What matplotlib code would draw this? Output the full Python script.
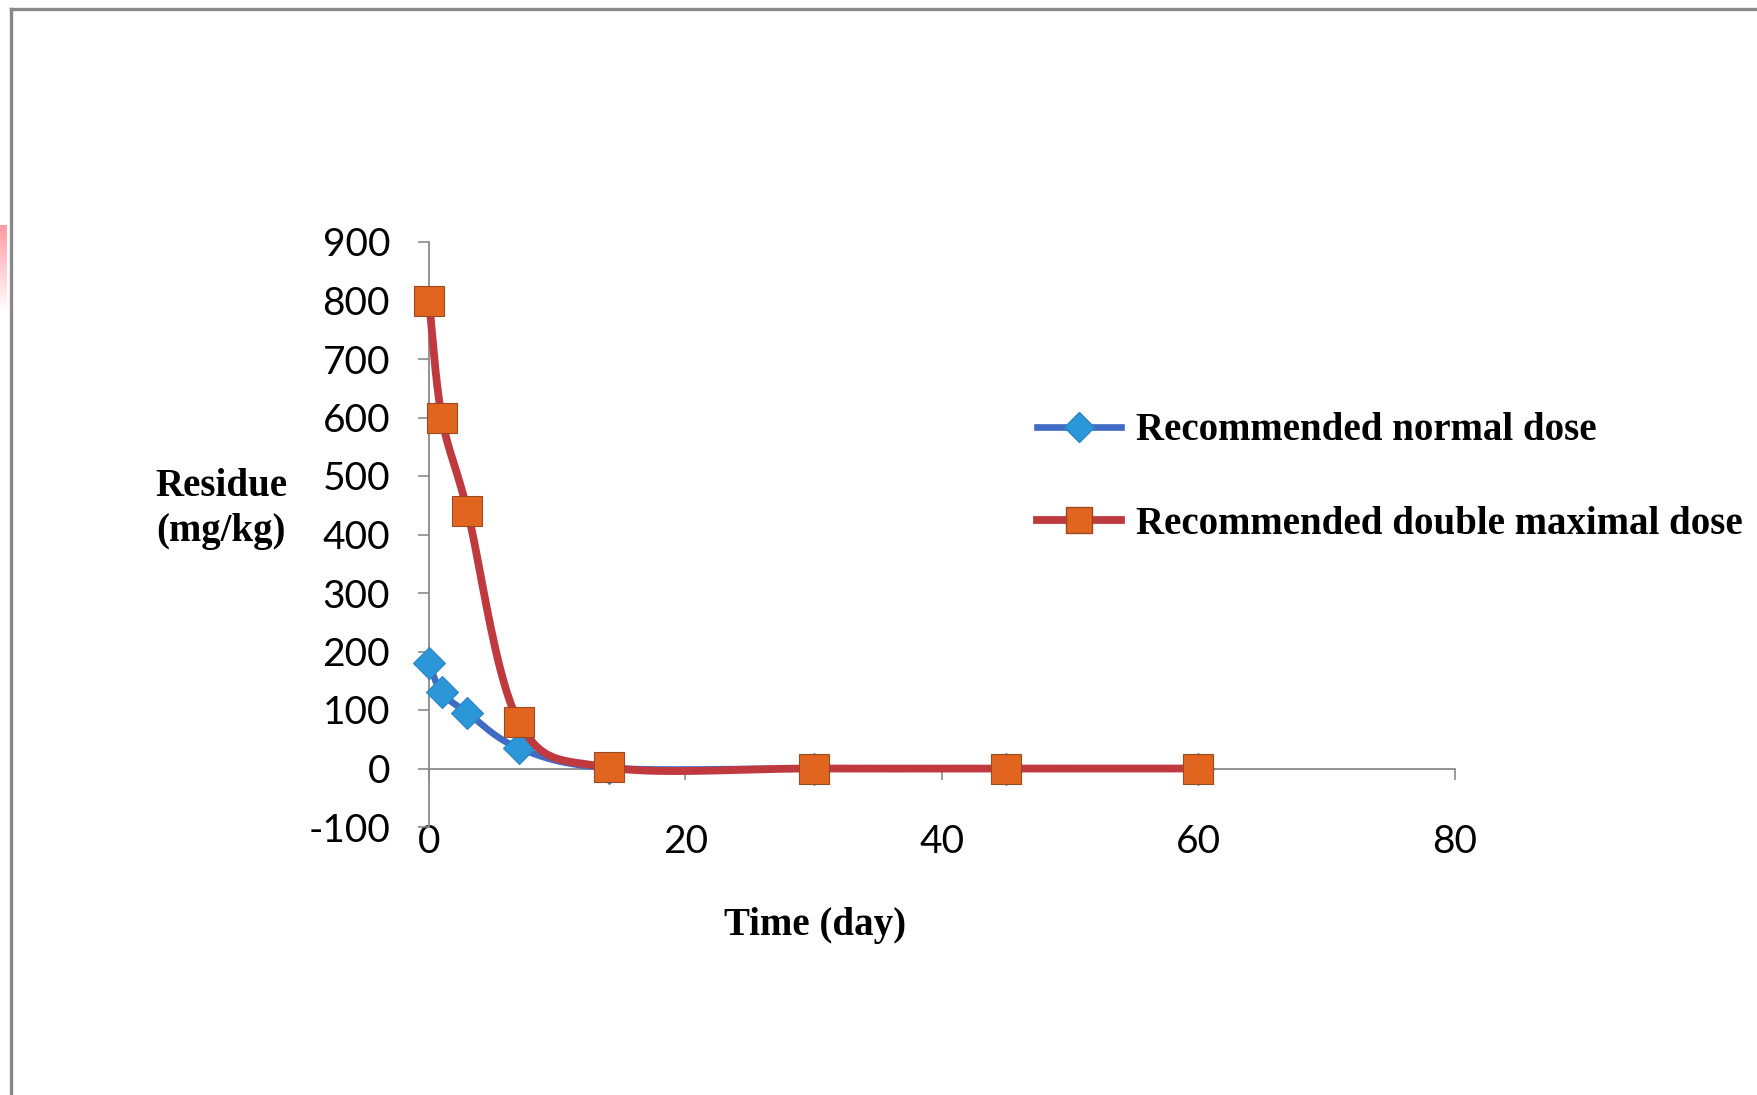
import numpy as np
import matplotlib
matplotlib.use('Agg')
import matplotlib.pyplot as plt
from matplotlib.lines import Line2D

# data
days = [0, 1, 3, 7, 14, 30, 45, 60]
normal_dose = [180, 130, 95, 35, 1, 0, 0, 0]
double_dose = [800, 600, 440, 80, 2, 0, 0, 0]
series_labels = ['Recommended normal dose', 'Recommended double maximal dose']
x_ticks = [0, 20, 40, 60, 80]
y_ticks = [-100, 0, 100, 200, 300, 400, 500, 600, 700, 800, 900]

plt.rcParams['axes.unicode_minus'] = False

W, H = 1758, 1095
fig = plt.figure(figsize=(W / 100, H / 100), dpi=100)

# axes box in pixels: x 429..1455, y(900)=242 .. y(-100)=827
ax_left, ax_right, ax_top, ax_bottom = 429, 1455, 242, 827
ax = fig.add_axes([ax_left / W, 1 - ax_bottom / H,
                   (ax_right - ax_left) / W, (ax_bottom - ax_top) / H])
ax.set_xlim(0, 80)
ax.set_ylim(-100, 900)


def excel_smooth(xs, ys, n=40):
    # Catmull-Rom style bezier like Excel's "smoothed line", done in pixel space
    sx = (ax_right - ax_left) / 80.0
    sy = (ax_bottom - ax_top) / 1000.0
    p = np.column_stack([np.asarray(xs, float) * sx, np.asarray(ys, float) * sy])
    p = np.vstack([p[0], p, p[-1]])
    t = np.linspace(0, 1, n)[:, None]
    out = []
    for i in range(1, len(p) - 2):
        p0, p1, p2, p3 = p[i - 1], p[i], p[i + 1], p[i + 2]
        c1 = p1 + (p2 - p0) / 6.0
        c2 = p2 - (p3 - p1) / 6.0
        seg = ((1 - t) ** 3) * p1 + 3 * ((1 - t) ** 2) * t * c1 + 3 * (1 - t) * t ** 2 * c2 + t ** 3 * p2
        out.append(seg)
    out = np.vstack(out)
    return out[:, 0] / sx, out[:, 1] / sy


blue_line = '#3f6bc4'
blue_mark = '#2b97d8'
red_line = '#c0393f'
orange_mark = '#e2651f'

bx, by = excel_smooth(days, normal_dose)
rx, ry = excel_smooth(days, double_dose)

ax.plot(bx, by, color=blue_line, lw=4.8, solid_capstyle='round', zorder=3, clip_on=False)
ax.plot(days, normal_dose, ls='none', marker='D', ms=16, color=blue_mark,
        markeredgecolor='#2a86c4', markeredgewidth=0.8, zorder=4, clip_on=False)
ax.plot(rx, ry, color=red_line, lw=5.6, solid_capstyle='round', zorder=5, clip_on=False)
ax.plot(days, double_dose, ls='none', marker='s', ms=21, color=orange_mark,
        markeredgecolor='#9a4a22', markeredgewidth=0.8, zorder=6, clip_on=False)

# Excel-like axes: vertical axis at x=0, horizontal axis crossing at y=0
for s in ['top', 'right']:
    ax.spines[s].set_visible(False)
ax.spines['left'].set_color('#8a8a8a')
ax.spines['left'].set_linewidth(1.3)
ax.spines['bottom'].set_position(('data', 0))
ax.spines['bottom'].set_color('#8a8a8a')
ax.spines['bottom'].set_linewidth(1.3)

ax.set_xticks(x_ticks)
ax.set_yticks(y_ticks)
ax.tick_params(axis='y', direction='out', length=8, width=1.2, color='#8a8a8a',
               pad=20, labelsize=28)
ax.tick_params(axis='x', direction='out', length=8, width=1.2, color='#8a8a8a',
               pad=32, labelsize=28)
for lab in ax.get_xticklabels() + ax.get_yticklabels():
    lab.set_fontfamily('Lato')

serif_bold = dict(family='Liberation Serif', fontweight='bold', fontsize=28)
fig.text(221 / W, 1 - 509 / H, 'Residue\n(mg/kg)', ha='center', va='center',
         linespacing=1.3, **serif_bold)
fig.text(815 / W, 1 - 926 / H, 'Time (day)', ha='center', va='center', **serif_bold)

handles = [
    Line2D([], [], color=blue_line, lw=4.8, marker='D', ms=15, markerfacecolor=blue_mark,
           markeredgecolor='#2a86c4'),
    Line2D([], [], color=red_line, lw=5.6, marker='s', ms=19, markerfacecolor=orange_mark,
           markeredgecolor='#9a4a22'),
]
fig.legend(handles, series_labels, loc='center left', bbox_to_anchor=(1037 / W, 1 - 477.5 / H),
           frameon=False, borderpad=0, borderaxespad=0, handlelength=2.15,
           handletextpad=0.4, labelspacing=1.45,
           prop=dict(family='Liberation Serif', weight='bold', size=28))

# outer frame (left and top edges only) and the pink strip at the left edge
fig.add_artist(Line2D([11 / W, 11 / W], [0, 1 - 9 / H], color='#888888', lw=2.4,
                      transform=fig.transFigure))
fig.add_artist(Line2D([11 / W, 1], [1 - 9 / H, 1 - 9 / H], color='#888888', lw=2.4,
                      transform=fig.transFigure))
grad = np.linspace(0, 1, 100)[:, None]
pink_ax = fig.add_axes([0, 1 - 313 / H, 7 / W, 88 / H])
pink_ax.imshow(grad, cmap=matplotlib.colors.LinearSegmentedColormap.from_list(
    'pk', ['#ff9aa2', '#ffffff']), aspect='auto')
pink_ax.axis('off')

fig.savefig('out.png', dpi=100)
